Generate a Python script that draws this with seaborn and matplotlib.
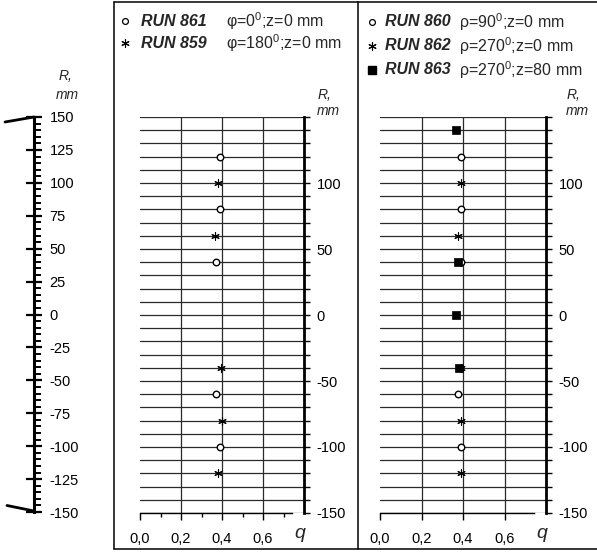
import numpy as np
import pandas as pd
import matplotlib
matplotlib.use("Agg")
import matplotlib.pyplot as plt
import seaborn as sns
from matplotlib.lines import Line2D
from matplotlib.ticker import FuncFormatter

sns.set_theme(style="white")
plt.rcParams['font.family'] = ['Liberation Sans', 'DejaVu Sans']
plt.rcParams['mathtext.fontset'] = 'custom'
plt.rcParams['mathtext.rm'] = 'Liberation Sans'
plt.rcParams['mathtext.it'] = 'Liberation Sans:italic'
plt.rcParams['axes.unicode_minus'] = False

# ---------------- data ----------------
r_861 = [120, 80, 40, -60, -100]
q_861 = [0.39, 0.39, 0.37, 0.37, 0.39]
r_859 = [100, 60, -40, -80, -120]
q_859 = [0.38, 0.365, 0.395, 0.40, 0.38]

r_860 = [120, 80, 40, -60, -100]
q_860 = [0.39, 0.39, 0.39, 0.375, 0.39]
r_862 = [100, 60, -40, -80, -120]
q_862 = [0.39, 0.377, 0.39, 0.39, 0.39]
r_863 = [140, 40, 0, -40]
q_863 = [0.365, 0.377, 0.365, 0.38]

x_ticks = [0.0, 0.2, 0.4, 0.6]
x_tick_labels = ["0,0", "0,2", "0,4", "0,6"]
x_minor_ticks = [0.1, 0.3, 0.5, 0.7]
r_panel_labels = [-150, -100, -50, 0, 50, 100]
r_grid = list(range(-150, 151, 10))
scale_ticks = list(range(-150, 151, 25))
scale_minor = list(range(-150, 151, 5))

legend_left = [("RUN 861", "φ=0$^0$;z=0 mm", "circle"),
               ("RUN 859", "φ=180$^0$;z=0 mm", "star")]
legend_right = [("RUN 860", "ρ=90$^0$;z=0 mm", "circle"),
                ("RUN 862", "ρ=270$^0$;z=0 mm", "star"),
                ("RUN 863", "ρ=270$^0$;z=80 mm", "square")]

W, H = 597, 552
fig = plt.figure(figsize=(W / 100, H / 100), dpi=100)
fig.patch.set_facecolor("white")

def fx(px):
    return px / W

def fy(py):
    return 1 - py / H

STAR = (6, 2, 0)
styles = {
    "circle": dict(marker="o", s=22, color="white", edgecolor="black", linewidth=1.0),
    "star": dict(marker=STAR, s=30, color="black", linewidth=0.8),
    "square": dict(marker="s", s=30, color="black", edgecolor="black", linewidth=0.5),
}

def setup_panel(ax, minor):
    ax.set_xlim(0, 0.8)
    ax.set_ylim(-150, 150)
    ax.set_facecolor("white")
    for s in ["top", "left"]:
        ax.spines[s].set_visible(False)
    ax.spines["right"].set_linewidth(2.0)
    ax.spines["right"].set_color("black")
    ax.spines["bottom"].set_linewidth(1.0)
    ax.spines["bottom"].set_color("black")
    ax.spines["bottom"].set_bounds(0, 0.74)
    ax.yaxis.tick_right()
    ax.set_yticks(r_grid)
    ax.yaxis.set_major_formatter(FuncFormatter(
        lambda v, p: f"{int(round(v))}" if int(round(v)) in r_panel_labels else ""))
    ax.tick_params(axis="y", which="major", direction="out", length=4, width=1,
                   color="black", pad=5, labelsize=10.5, right=True, left=False,
                   labelcolor="black")
    ax.set_xticks(x_ticks)
    ax.set_xticklabels(x_tick_labels)
    if minor:
        ax.set_xticks(x_minor_ticks, minor=True)
        ax.tick_params(axis="x", which="minor", direction="out", length=3, width=1,
                       color="black", bottom=True)
    ax.tick_params(axis="x", which="major", direction="out", length=5, width=1,
                   color="black", pad=9, labelsize=10.5, bottom=True, labelcolor="black")
    ax.grid(True, axis="y", which="major", color="#2a2a2a", linewidth=0.9)
    for xv in x_ticks[1:]:
        ax.axvline(xv, color="#2a2a2a", linewidth=0.9, zorder=1)
    ax.set_axisbelow(True)
    ax.set_xlabel("")
    ax.set_ylabel("")

# ---------------- panels ----------------
ax1 = fig.add_axes([fx(140), fy(513), (304 - 140) / W, (513 - 117) / H])
ax2 = fig.add_axes([fx(380), fy(513), (546 - 380) / W, (513 - 117) / H])

sns.scatterplot(x=q_861, y=r_861, ax=ax1, zorder=3, **styles["circle"])
sns.scatterplot(x=q_859, y=r_859, ax=ax1, zorder=3, **styles["star"])
sns.scatterplot(x=q_860, y=r_860, ax=ax2, zorder=3, **styles["circle"])
sns.scatterplot(x=q_862, y=r_862, ax=ax2, zorder=3, **styles["star"])
sns.scatterplot(x=q_863, y=r_863, ax=ax2, zorder=4, **styles["square"])

setup_panel(ax1, True)
setup_panel(ax2, False)

# ---------------- left scale ----------------
axs = fig.add_axes([fx(34), fy(512), 0.0005, (512 - 117) / H])
axs.set_ylim(-150, 150)
axs.set_xlim(0, 1)
axs.patch.set_visible(False)
for s in ["top", "bottom", "right"]:
    axs.spines[s].set_visible(False)
axs.spines["left"].set_linewidth(2.2)
axs.spines["left"].set_color("black")
axs.set_xticks([])
axs.yaxis.tick_right()
axs.set_yticks(scale_ticks)
axs.set_yticks(scale_minor, minor=True)
axs.tick_params(axis="y", which="major", direction="inout", length=12, width=1.6,
                color="black", pad=5, labelsize=10.5, labelcolor="black", right=True, left=False)
axs.tick_params(axis="y", which="minor", direction="out", length=5, width=1.4,
                color="black", right=True, left=False)
fig.add_artist(Line2D([fx(5), fx(34)], [fy(122), fy(117)], transform=fig.transFigure,
                      color="black", linewidth=2.0))
fig.add_artist(Line2D([fx(7), fx(34)], [fy(505.5), fy(511)], transform=fig.transFigure,
                      color="black", linewidth=2.0))

# ---------------- axis titles ----------------
for xr, yr, xm, ym in [(66, 76, 67, 95), (325, 95, 328, 111), (574, 95, 577, 111)]:
    fig.text(fx(xr), fy(yr), "R,", style="italic", fontsize=10, ha="center", va="center")
    fig.text(fx(xm), fy(ym), "mm", style="italic", fontsize=10, ha="center", va="center")
for xq in [300, 542]:
    fig.text(fx(xq), fy(533), "q", style="italic", fontsize=14, ha="center", va="center")

# ---------------- frame lines ----------------
lw_box = 1.1
for xs, ys in [([114, 597], [2, 2]), ([114, 597], [549, 549]),
               ([114, 114], [2, 549]), ([358, 358], [2, 549])]:
    fig.add_artist(Line2D([fx(v) for v in xs], [fy(v) for v in ys],
                          transform=fig.transFigure, color="black", linewidth=lw_box))

# ---------------- legends ----------------
mk = {"circle": dict(marker="o", markersize=4.2, markerfacecolor="white",
                     markeredgecolor="black", markeredgewidth=0.9),
      "star": dict(marker=STAR, markersize=6, color="black", markeredgewidth=0.8),
      "square": dict(marker="s", markersize=5.5, color="black")}

def draw_legend(entries, xm, xrun, xphi, ys):
    for (run, desc, kind), y in zip(entries, ys):
        fig.add_artist(Line2D([fx(xm)], [fy(y)], transform=fig.transFigure,
                              linestyle="none", **mk[kind]))
        fig.text(fx(xrun), fy(y), run, fontsize=11.5, fontweight="bold",
                 style="italic", ha="left", va="center")
        fig.text(fx(xphi), fy(y), desc, fontsize=11.5, ha="left", va="center")

draw_legend(legend_left, 125, 141, 226, [21, 43])
draw_legend(legend_right, 372, 385, 459, [22, 46, 70])

fig.savefig("out.png", dpi=100, facecolor="white")
